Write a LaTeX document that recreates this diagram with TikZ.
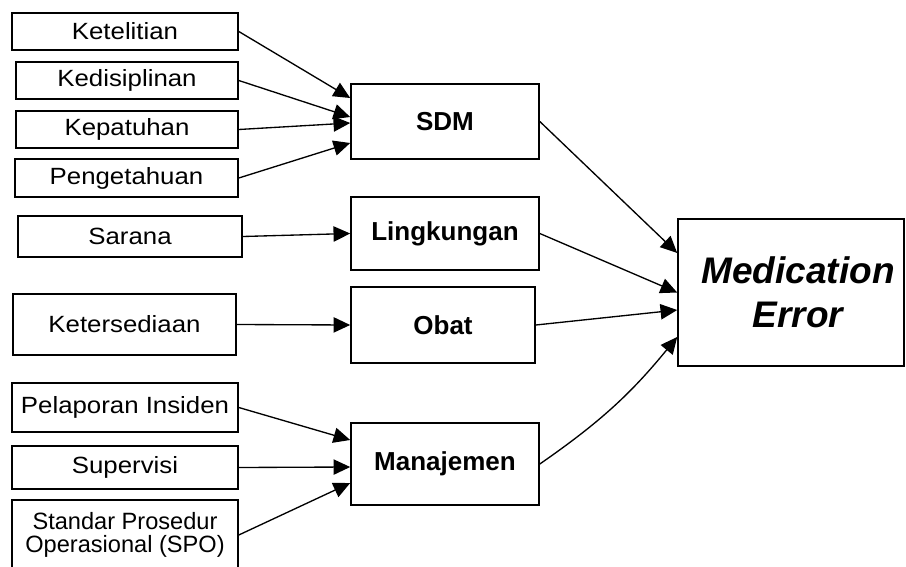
\documentclass[tikz,border=0pt]{standalone}
\usepackage{fontspec}
\setmainfont{Liberation Sans}
\newfontfamily\widefont{Liberation Sans}[FakeStretch=1.1]
\usepackage{tikz}
\usetikzlibrary{arrows.meta,calc}

\tikzset{
  leftbox/.style={draw,line width=1.2pt,inner sep=0pt,minimum width=169.5pt,
    font=\widefont\fontsize{17.6}{20}\selectfont},
  midbox/.style={draw,line width=1.2pt,inner sep=0pt,minimum width=141pt,
    font=\bfseries\fontsize{19.5}{23}\selectfont},
  arr/.style={-{Triangle[length=12.5pt,width=11.5pt]},line width=1pt}
}

\begin{document}
\begin{tikzpicture}[x=0.75pt,y=-0.75pt]
    \useasboundingbox (0,0) rectangle (906,567);
    \clip (0,0) rectangle (906,567);
    % Faktor penyebab
    \node[leftbox,minimum height=27.75pt] (ket) at (125,31.5) {Ketelitian};
    \node[leftbox,minimum width=166.5pt,minimum height=27.75pt] (kedis) at (127,80.5) {Kedisiplinan};
    \node[leftbox,minimum width=166.5pt,minimum height=27.75pt] (kepat) at (127,129.5) {Kepatuhan};
    \node[leftbox,minimum width=167.25pt,minimum height=28.5pt] (penget) at (126.5,178) {Pengetahuan};
    \node[leftbox,minimum width=168pt,minimum height=30.75pt] (sarana) at (130,236.5) {Sarana};
    \node[leftbox,minimum width=167.25pt,minimum height=45.75pt] (keters) at (124.5,324.5) {Ketersediaan};
    \node[leftbox,minimum height=36.75pt] (pelap) at (125,407.5) {Pelaporan Insiden};
    \node[leftbox,minimum height=32.25pt] (superv) at (125,467.5) {Supervisi};
    \node[leftbox,minimum height=52.5pt,align=center,font=\fontsize{17.7}{17.25}\selectfont]
        (spo) at (125,535) {Standar Prosedur\\Operasional (SPO)};
    % Kategori
    \node[midbox,minimum height=56.25pt] (sdm) at (445,121.5) {SDM};
    \node[midbox,minimum height=54.75pt] (ling) at (445,233.5) {Lingkungan};
    \node[midbox,minimum width=138pt,minimum height=57pt] (obat) at (443,325) {Obat};
    \node[midbox,minimum height=61.5pt] (manaj) at (445,464) {Manajemen};
    % Akibat
    \node[draw,line width=1.2pt,minimum width=169.5pt,minimum height=110.25pt,align=center,
        font=\bfseries\itshape\fontsize{27.75}{33}\selectfont] (me) at (791,292.5)
        {\hspace*{10.5pt}Medication\\\hspace*{10.5pt}Error};
    % Panah
    \foreach \src/\dy in {ket/-23.5,kedis/-4.5,kepat/1.5,penget/21.5}
        \draw[arr] (\src.east) -- ($(sdm.west)+(0,\dy)$);
    \draw[arr] (sarana.east) -- (ling.west);
    \draw[arr] (keters.east) -- (obat.west);
    \foreach \src/\dy in {pelap/-24,superv/3,spo/19}
        \draw[arr] (\src.east) -- ($(manaj.west)+(0,\dy)$);
    \draw[arr] (sdm.east) -- ($(me.west)+(0,-39.5)$);
    \draw[arr] (ling.east) -- (me.west);
    \draw[arr] (obat.east) -- ($(me.west)+(0,17.5)$);
    \draw[arr] (manaj.east) to[bend right=8] ($(me.west)+(0,44.5)$);
\end{tikzpicture}
\end{document}
